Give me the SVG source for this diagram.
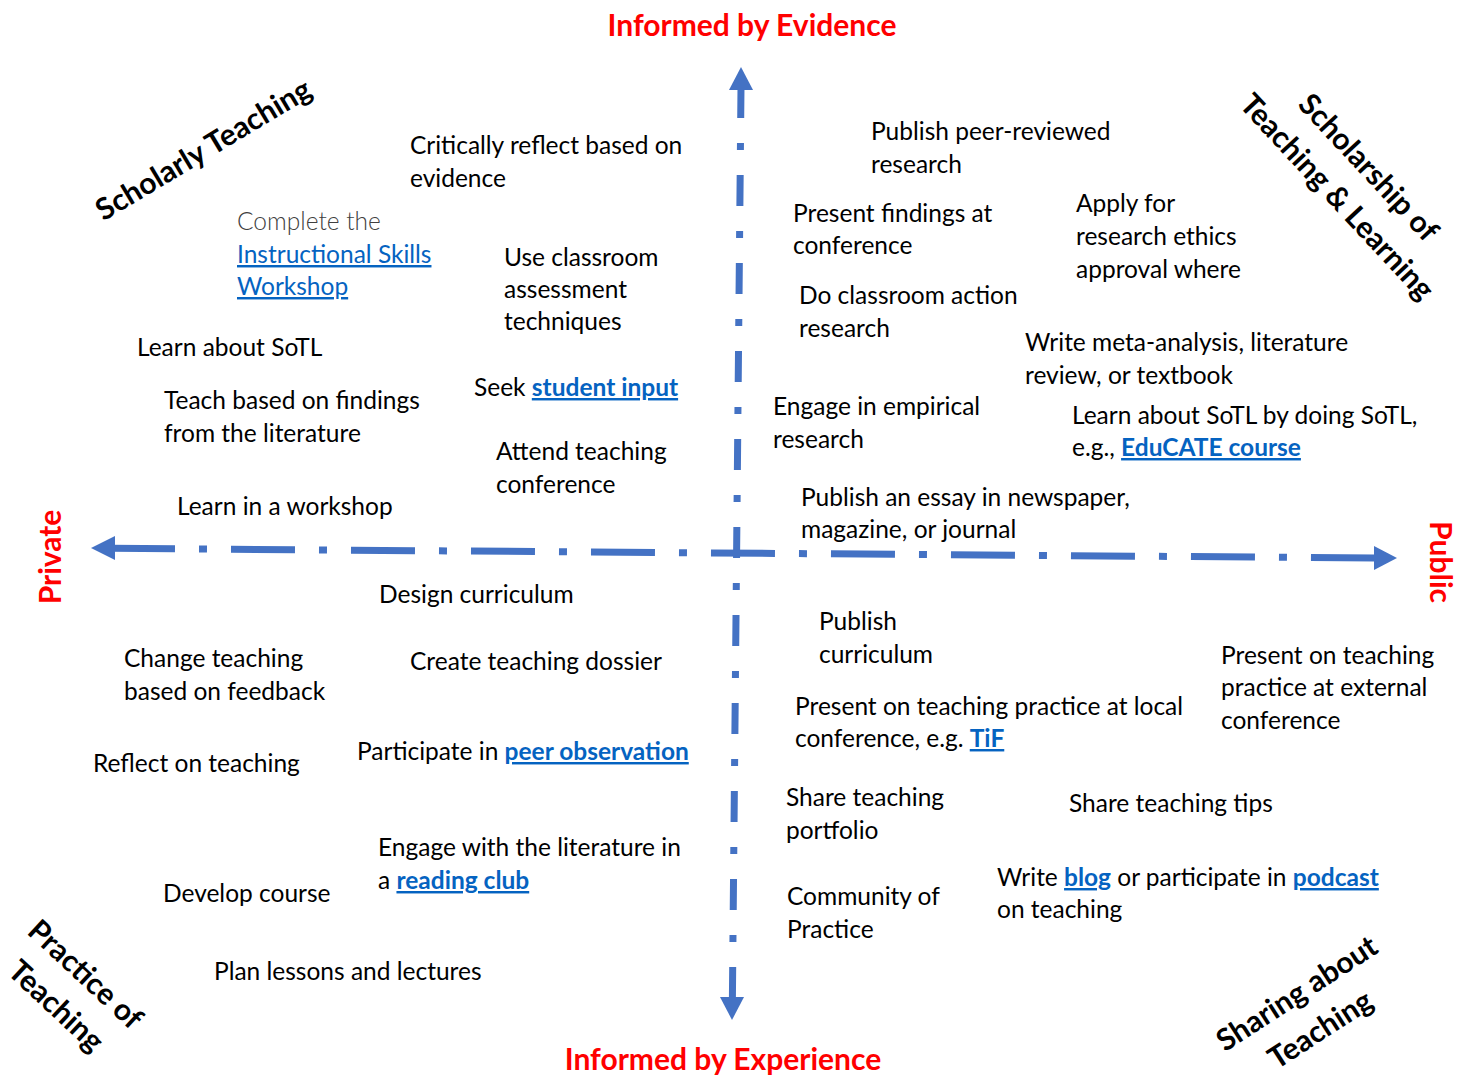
<svg xmlns="http://www.w3.org/2000/svg" width="1465" height="1076" viewBox="0 0 1465 1076">
<style>
text{font-family:Lato,"Liberation Sans",sans-serif;}
.t{font-size:24.5px;fill:#000;}
.lt{font-size:24.5px;fill:#404040;font-weight:300;}
.lk{fill:#0563C1;text-decoration:underline;}
.b{font-weight:bold;}
.ax{font-size:30px;font-weight:bold;fill:#FF0000;}
.cn{font-size:30px;font-weight:bold;fill:#000;text-anchor:middle;}
.axis{fill:none;stroke:#4472C4;stroke-width:7;}
.head{fill:#4472C4;}
</style>
<rect width="1465" height="1076" fill="#fff"/>
<g id="connectors">
<path class="axis" d="M741,87 L732.4,998" stroke-dasharray="31 25 7 25"/>
<polygon class="head" points="741,67 753,90 729,90"/>
<polygon class="head" points="732,1020 744,997 720,997"/>
<path class="axis" d="M111,548.3 L1375,558" stroke-dasharray="64 24 8 24"/>
<polygon class="head" points="91,548 115,536 115,560"/>
<polygon class="head" points="1397,558 1374,546 1374,570"/>
</g>
<g id="axis-labels">
<text id="evidence" class="ax" x="752" y="36" text-anchor="middle">Informed by Evidence</text>
<text id="experience" class="ax" x="723" y="1070" text-anchor="middle">Informed by Experience</text>
<text id="private" class="ax" transform="translate(61,557) rotate(-90)" text-anchor="middle">Private</text>
<text id="public" class="ax" transform="translate(1430,562) rotate(90)" text-anchor="middle">Public</text>
</g>
<g id="corner-labels">
<g id="scholarly-teaching" transform="translate(203,149) rotate(-31)"><text class="cn" y="11">Scholarly Teaching</text></g>
<g id="sotl" transform="translate(1353,182) rotate(47)"><text class="cn" y="-11">Scholarship of</text><text class="cn" y="32">Teaching &amp; Learning</text></g>
<g id="practice" transform="translate(71,990) rotate(43)"><text class="cn" y="-11">Practice of</text><text class="cn" y="32">Teaching</text></g>
<g id="sharing" transform="translate(1309,1012) rotate(-33)"><text class="cn" y="-12">Sharing about</text><text class="cn" y="31">Teaching</text></g>
</g>
<g id="upper-left" transform="translate(0,1)">
<g id="n1"><text class="t" x="410" y="153">Critically reflect based on</text><text class="t" x="410" y="186">evidence</text></g>
<g id="n2"><text class="lt" x="237" y="229">Complete the</text><text class="t lk" x="237" y="262">Instructional Skills</text><text class="t lk" x="237" y="294">Workshop</text></g>
<g id="n3"><text class="t" x="504" y="265">Use classroom</text><text class="t" x="504" y="297">assessment</text><text class="t" x="504" y="329">techniques</text></g>
<g id="n4"><text class="t" x="137" y="355">Learn about SoTL</text></g>
<g id="n5"><text class="t" x="474" y="395">Seek <tspan class="lk b">student input</tspan></text></g>
<g id="n6"><text class="t" x="164" y="408">Teach based on findings</text><text class="t" x="164" y="441">from the literature</text></g>
<g id="n7"><text class="t" x="496" y="459">Attend teaching</text><text class="t" x="496" y="492">conference</text></g>
<g id="n8"><text class="t" x="177" y="514">Learn in a workshop</text></g>
</g>
<g id="upper-right" transform="translate(0,1)">
<g id="n9"><text class="t" x="871" y="139">Publish peer-reviewed</text><text class="t" x="871" y="172">research</text></g>
<g id="n10"><text class="t" x="793" y="221">Present findings at</text><text class="t" x="793" y="253">conference</text></g>
<g id="n11"><text class="t" x="1076" y="211">Apply for</text><text class="t" x="1076" y="244">research ethics</text><text class="t" x="1076" y="277">approval where</text></g>
<g id="n12"><text class="t" x="799" y="303">Do classroom action</text><text class="t" x="799" y="336">research</text></g>
<g id="n13"><text class="t" x="1025" y="350">Write meta-analysis, literature</text><text class="t" x="1025" y="383">review, or textbook</text></g>
<g id="n14"><text class="t" x="773" y="414">Engage in empirical</text><text class="t" x="773" y="447">research</text></g>
<g id="n15"><text class="t" x="1072" y="423">Learn about SoTL by doing SoTL,</text><text class="t" x="1072" y="455">e.g., <tspan class="lk b">EduCATE course</tspan></text></g>
<g id="n16"><text class="t" x="801" y="505">Publish an essay in newspaper,</text><text class="t" x="801" y="537">magazine, or journal</text></g>
</g>
<g id="lower-left" transform="translate(0,1)">
<g id="n17"><text class="t" x="379" y="602">Design curriculum</text></g>
<g id="n18"><text class="t" x="124" y="666">Change teaching</text><text class="t" x="124" y="699">based on feedback</text></g>
<g id="n19"><text class="t" x="410" y="669">Create teaching dossier</text></g>
<g id="n20"><text class="t" x="93" y="771">Reflect on teaching</text></g>
<g id="n21"><text class="t" x="357" y="759">Participate in <tspan class="lk b">peer observation</tspan></text></g>
<g id="n22"><text class="t" x="378" y="855">Engage with the literature in</text><text class="t" x="378" y="888">a <tspan class="lk b">reading club</tspan></text></g>
<g id="n23"><text class="t" x="163" y="901">Develop course</text></g>
<g id="n24"><text class="t" x="214" y="979">Plan lessons and lectures</text></g>
</g>
<g id="lower-right" transform="translate(0,1)">
<g id="n25"><text class="t" x="819" y="629">Publish</text><text class="t" x="819" y="662">curriculum</text></g>
<g id="n26"><text class="t" x="1221" y="663">Present on teaching</text><text class="t" x="1221" y="695">practice at external</text><text class="t" x="1221" y="728">conference</text></g>
<g id="n27"><text class="t" x="795" y="714">Present on teaching practice at local</text><text class="t" x="795" y="746">conference, e.g. <tspan class="lk b">TiF</tspan></text></g>
<g id="n28"><text class="t" x="786" y="805">Share teaching</text><text class="t" x="786" y="838">portfolio</text></g>
<g id="n29"><text class="t" x="1069" y="811">Share teaching tips</text></g>
<g id="n30"><text class="t" x="997" y="885">Write <tspan class="lk b">blog</tspan> or participate in <tspan class="lk b">podcast</tspan></text><text class="t" x="997" y="917">on teaching</text></g>
<g id="n31"><text class="t" x="787" y="904">Community of</text><text class="t" x="787" y="937">Practice</text></g>
</g>
</svg>
